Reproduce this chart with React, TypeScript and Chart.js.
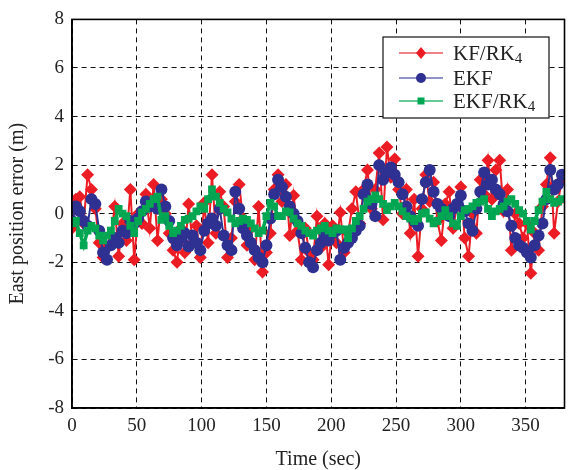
import React, { useEffect, useRef } from "react";
import { Chart, registerables } from "chart.js";

Chart.register(...registerables);

const STEP = 3;
const seriesNames = ["KF/RK", "EKF", "EKF/RK"];
const seriesSubs = ["4", "", "4"];
const xTicks = [0, 50, 100, 150, 200, 250, 300, 350];
const yTicks = [-8, -6, -4, -2, 0, 2, 4, 6, 8];

const kfRk4 = [
  -0.6, 0.6, 0.7, -0.4, 1.6, 1.0, 0.2, -1.2, -1.8, -1.4, -0.9, 0.3, -1.75, -0.4, -1.1, 1.0,
  -1.9, 0.0, -0.4, 0.8, -0.6, 1.2, -1.1, 0.6, 0.0, -0.8, -1.5, -2.0, -0.6, -1.6, 0.4, -1.2,
  -0.5, -1.8, 0.45, -1.2, 1.6, -0.8, 0.9, 0.3, -1.8, -1.0, 0.5, 1.2, -0.2, -1.3, -0.6, -1.9,
  0.3, -2.4, -1.6, -0.8, 1.0, 1.6, 0.5, 1.2, -0.9, 0.75, -0.7, -1.9, -0.6, -1.6, -1.9, -0.1,
  -1.4, -0.4, -2.1, -0.5, -1.2, 0.05, -1.6, -0.8, 0.2, 0.9, -0.4, 1.0, 1.8, 0.2, 1.0, 2.5,
  -0.25, 2.75, 1.5, 2.25, 1.0, 0.0, 1.0, -0.8, 0.6, -1.75, 0.2, 1.6, 0.5, 1.3, -0.3, -1.1,
  0.4, 0.9, -0.6, 0.3, 1.1, -1.0, -1.75, 0.0, -0.8, 1.4, 0.8, 2.2, 0.6, 1.8, 2.2, 0.1,
  1.0, -1.5, 0.0, -0.4, -1.0, -0.4, -2.45, -0.8, -1.5, 0.3, 1.2, 2.3, -0.8, 0.5, 1.4,
];

const ekf = [
  -0.3, 0.3, 0.1, -0.3, -0.5, 0.6, 0.4, -0.7, -1.6, -1.9, -1.3, -1.0, -1.2, -0.7, -0.8, -0.3,
  -0.4, -0.2, 0.1, 0.5, 0.3, 0.5, 0.2, 1.0, 0.3, -0.3, -1.0, -1.3, -1.0, -0.8, -1.35, -0.9,
  -1.2, -1.5, -0.7, -0.4, -0.2, -0.5, 0.2, -0.9, -1.3, -1.5, 0.9, 0.2, -0.6, -0.9, -1.2, -1.5,
  -1.8, -2.0, -1.3, -0.2, 0.8, 1.4, 1.1, 0.7, 0.3, 0.0, -0.3, -0.8, -1.4, -2.0, -2.2, -1.5,
  -1.2, -0.9, -1.1, -0.8, -0.7, -1.9, -1.4, -1.2, -1.0, -0.7, -0.5, 0.8, 1.2, 0.4, -0.1, 2.0,
  1.4, 1.7, 1.9, 1.6, 1.3, 0.8, 0.3, -0.1, -0.3, -0.5, 0.6, 1.3, 1.8, 0.9, 0.4, 0.2,
  0.0, -0.1, 0.2, 0.4, 0.75, 0.1, -0.4, -0.7, 0.2, 0.9, 1.7, 1.2, 1.4, 1.0, 0.8, 0.4,
  0.1, -0.5, -1.0, -1.3, -1.4, -1.6, -1.8, -1.3, -0.9, -0.4, 0.6, 1.8, 1.0, 1.2, 1.6,
];

const ekfRk4 = [
  -0.4, -0.3, -0.8, -1.3, -0.7, -0.5, -0.6, -0.9, -1.1, -0.9, -0.7, -0.3, 0.2, 0.0, -0.1, -0.5,
  -0.8, -0.3, 0.05, 0.2, 0.4, 0.6, 0.7, -0.25, -0.1, -0.5, -0.8, -0.7, -0.5, -0.25, -0.2, -0.1,
  0.1, 0.3, 0.2, 0.6, 1.0, 0.7, 0.45, 0.2, 0.05, -0.2, -0.4, -0.3, -0.2, -0.25, -0.4, -0.6,
  -0.8, -0.7, -0.1, 0.45, 0.3, -0.1, -0.1, 0.1, 0.05, -0.2, -0.4, -0.5, -0.7, -0.8, -0.9, -0.7,
  -0.6, -0.5, -0.7, -0.8, -0.6, -0.65, -0.65, -1.0, -0.6, -0.3, -0.1, 0.2, 0.5, 0.6, 0.75, 0.6,
  0.4, 0.15, 0.3, 0.45, 0.3, 0.1, -0.1, -0.2, -0.3, -0.2, 0.0, 0.05, -0.2, -0.4, -0.3, -0.1,
  0.15, -0.1, -0.4, -0.5, -0.1, 0.15, 0.2, 0.3, 0.45, 0.5, 0.6, 0.2, -0.1, 0.1, 0.2, 0.3,
  0.5, 0.6, 0.4, 0.15, 0.0, -0.3, -0.65, -0.3, 0.15, 0.5, 0.9, 0.6, 0.45, 0.5, 0.6,
];

const RED = "#ec1c24";
const BLUE = "#2e3192";
const GREEN = "#00a651";
const FONT = "'Liberation Serif', 'Times New Roman', serif";

const toPoints = (arr: number[]) => arr.map((v, i) => ({ x: i * STEP, y: v }));

const frameAndLegend = {
  id: "frameAndLegend",
  afterDraw(chart: any) {
    const { ctx, chartArea } = chart;
    ctx.save();
    ctx.strokeStyle = "#000";
    ctx.lineWidth = 1.6;
    ctx.setLineDash([]);
    ctx.strokeRect(chartArea.left, chartArea.top, chartArea.right - chartArea.left, chartArea.bottom - chartArea.top);

    const bx = 383, by = 37, bw = 166, bh = 81;
    ctx.fillStyle = "#fff";
    ctx.fillRect(bx, by, bw, bh);
    ctx.lineWidth = 1.2;
    ctx.strokeStyle = "#111";
    ctx.strokeRect(bx, by, bw, bh);

    const rows = [53, 78, 101];
    const colors = [RED, BLUE, GREEN];
    const lineColors = ["rgba(236,28,36,0.75)", "rgba(46,49,146,0.7)", "rgba(0,166,81,0.8)"];
    rows.forEach((y, i) => {
      ctx.strokeStyle = lineColors[i];
      ctx.lineWidth = 1.5;
      ctx.beginPath();
      ctx.moveTo(399, y);
      ctx.lineTo(443, y);
      ctx.stroke();
      ctx.fillStyle = colors[i];
      const cx = 421;
      ctx.beginPath();
      if (i === 0) {
        ctx.moveTo(cx, y - 6);
        ctx.lineTo(cx + 5, y);
        ctx.lineTo(cx, y + 6);
        ctx.lineTo(cx - 5, y);
        ctx.closePath();
      } else if (i === 1) {
        ctx.arc(cx, y, 5, 0, Math.PI * 2);
      } else {
        ctx.rect(cx - 3.5, y - 3.5, 7, 7);
      }
      ctx.fill();

      ctx.fillStyle = "#222";
      ctx.font = `21px ${FONT}`;
      ctx.textBaseline = "middle";
      ctx.textAlign = "left";
      const name = seriesNames[i];
      ctx.fillText(name, 453, y + 1);
      const w = ctx.measureText(name).width;
      if (seriesSubs[i]) {
        ctx.font = `15px ${FONT}`;
        ctx.fillText(seriesSubs[i], 453 + w, y + 6);
      }
    });
    ctx.restore();
  },
};

export default function App() {
  const ref = useRef<HTMLCanvasElement | null>(null);

  useEffect(() => {
    if (!ref.current) return;
    const chart = new Chart(ref.current, {
      type: "line",
      data: {
        datasets: [
          {
            label: seriesNames[0] + seriesSubs[0],
            data: toPoints(kfRk4),
            borderColor: RED,
            backgroundColor: RED,
            borderWidth: 2,
            pointStyle: "rectRot",
            pointRadius: 6.5,
            pointBorderWidth: 0,
            order: 3,
          },
          {
            label: seriesNames[1],
            data: toPoints(ekf),
            borderColor: BLUE,
            backgroundColor: BLUE,
            borderWidth: 2,
            pointStyle: "circle",
            pointRadius: 6,
            pointBorderWidth: 0,
            order: 2,
          },
          {
            label: seriesNames[2] + seriesSubs[2],
            data: toPoints(ekfRk4),
            borderColor: GREEN,
            backgroundColor: GREEN,
            borderWidth: 3.5,
            pointStyle: "rect",
            pointRadius: 5.5,
            pointBorderWidth: 0,
            order: 1,
          },
        ],
      },
      options: {
        responsive: false,
        animation: false,
        devicePixelRatio: 1,
        layout: { padding: { top: 19, right: 0, left: 0, bottom: 0 } },
        plugins: {
          legend: { display: false },
          tooltip: { enabled: false },
        },
        elements: { line: { tension: 0 } },
        scales: {
          x: {
            type: "linear",
            min: 0,
            max: 380,
            afterBuildTicks: (scale: any) => {
              scale.ticks = xTicks.map((v) => ({ value: v }));
            },
            afterFit: (scale: any) => {
              scale.height = 62;
            },
            ticks: {
              font: { family: FONT, size: 19 },
              color: "#222",
              padding: 7,
              maxRotation: 0,
              autoSkip: false,
            },
            grid: {
              color: "#111",
              lineWidth: 1,
              drawTicks: false,
              tickLength: 0,
            },
            border: { display: true, color: "#000", width: 1.6, dash: [5, 4] },
            title: {
              display: true,
              text: "Time (sec)",
              font: { family: FONT, size: 20, lineHeight: 1.0 },
              color: "#222",
              padding: { top: 0, bottom: 0 },
            },
          },
          y: {
            type: "linear",
            min: -8,
            max: 8,
            afterBuildTicks: (scale: any) => {
              scale.ticks = yTicks.map((v) => ({ value: v }));
            },
            afterFit: (scale: any) => {
              scale.width = 72;
            },
            ticks: {
              font: { family: FONT, size: 19 },
              color: "#222",
              padding: 8,
            },
            grid: {
              color: "#111",
              lineWidth: 1,
              drawTicks: false,
              tickLength: 0,
            },
            border: { display: true, color: "#000", width: 1.6, dash: [5, 4] },
            title: {
              display: true,
              text: "East position error (m)",
              font: { family: FONT, size: 20 },
              color: "#222",
              padding: { top: 6, bottom: 0 },
            },
          },
        },
      },
      plugins: [frameAndLegend],
    } as any);
    return () => chart.destroy();
  }, []);

  return (
    <div style={{ position: "fixed", left: 0, top: 0, width: 571, height: 470, background: "#fff" }}>
      <canvas ref={ref} width={571} height={470} style={{ width: 571, height: 470, display: "block" }} />
    </div>
  );
}
